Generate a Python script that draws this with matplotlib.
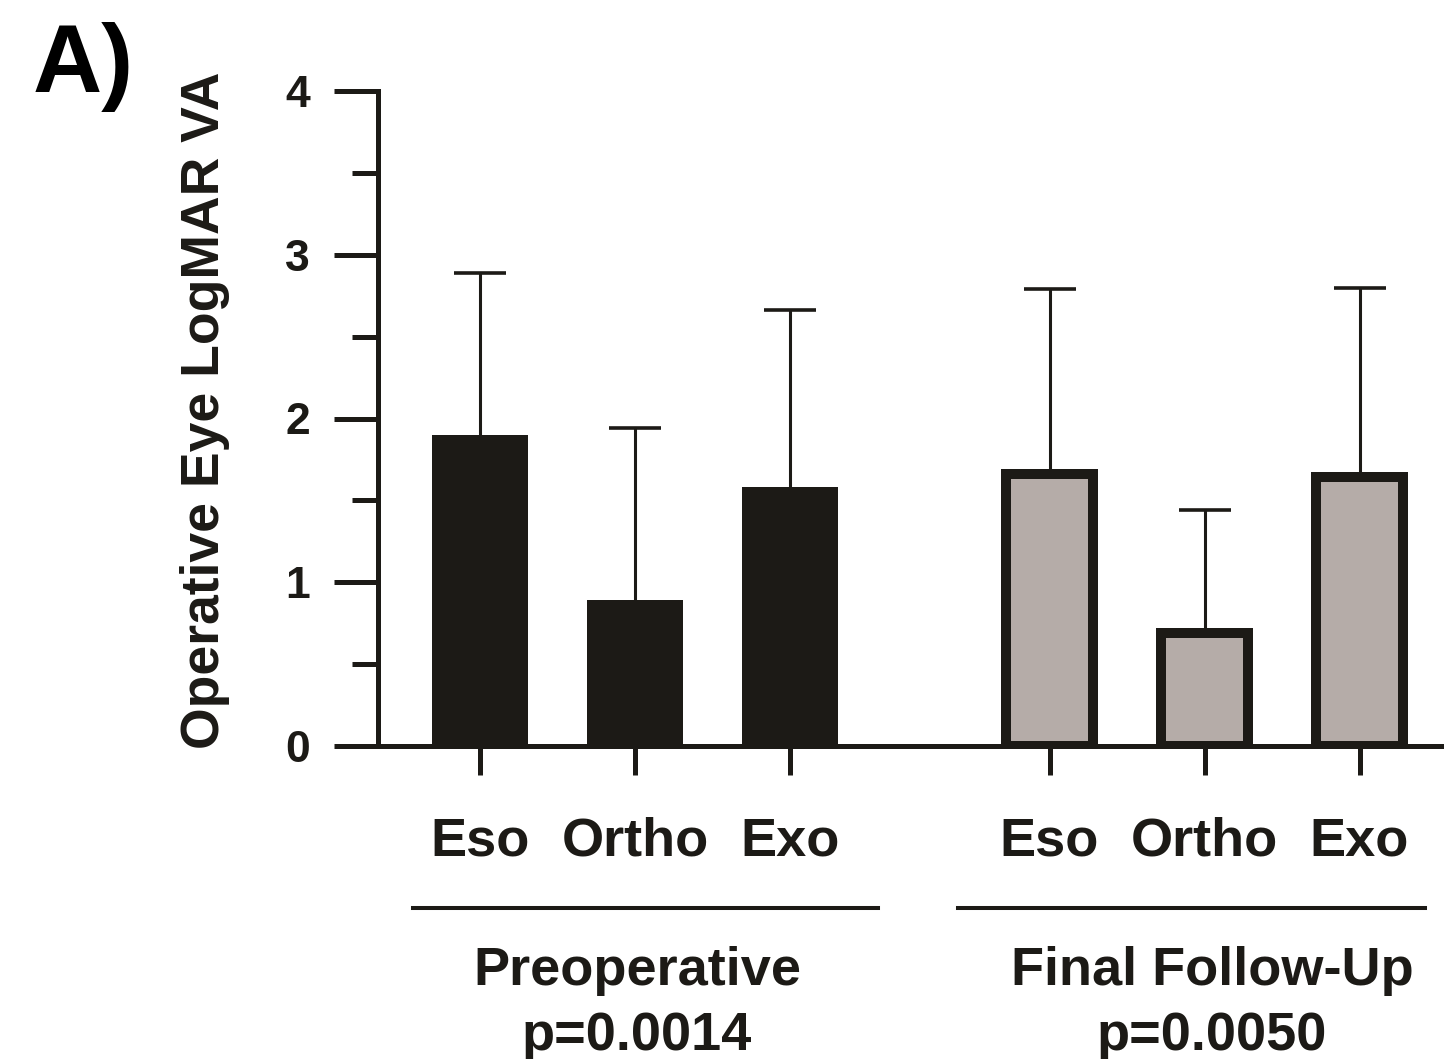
import matplotlib
matplotlib.use("Agg")
import matplotlib.pyplot as plt
from matplotlib.lines import Line2D
from matplotlib.ticker import MultipleLocator

plt.rcParams['font.family'] = ['Liberation Sans', 'DejaVu Sans']
plt.rcParams['font.weight'] = 'bold'

categories = ["Eso", "Ortho", "Exo"]
groups = ["Preoperative", "Final Follow-Up"]
pvalues = ["p=0.0014", "p=0.0050"]
preop_mean = [1.90, 0.89, 1.58]
preop_sd = [0.99, 1.05, 1.08]
final_mean = [1.66, 0.69, 1.64]
final_sd = [1.13, 0.75, 1.16]

W, H = 1444, 1059
fig = plt.figure(figsize=(W / 100, H / 100), dpi=100)
ax = fig.add_axes([378 / W, 1 - 746 / H, 1 - 378 / W, (746 - 91) / H])

dark = "#1c1a16"
grey = "#b5aca8"
gap = 3.674
pos_pre = [0, 1, 2]
pos_fin = [gap + i for i in range(3)]

ax.bar(pos_pre, preop_mean, width=0.62, color=dark, edgecolor=dark, linewidth=0, zorder=3)
ax.bar(pos_fin, final_mean, width=0.562, color=grey, edgecolor=dark, linewidth=7.2, zorder=3)

for pos, m, s in ((pos_pre, preop_mean, preop_sd), (pos_fin, final_mean, final_sd)):
    _, caps, _ = ax.errorbar(pos, m, yerr=[[0] * 3, s], fmt='none', ecolor=dark, elinewidth=2.2,
                             capsize=19, capthick=2.6, zorder=2)
    caps[0].set_visible(False)

ax.set_xlim(-0.658, 6.219)
ax.set_ylim(0, 4)
for sp in ("top", "right"):
    ax.spines[sp].set_visible(False)
for sp in ("left", "bottom"):
    ax.spines[sp].set_linewidth(3.6)
    ax.spines[sp].set_color(dark)

ax.set_yticks([0, 1, 2, 3, 4])
ax.yaxis.set_minor_locator(MultipleLocator(0.5))
ax.tick_params(axis='y', which='major', length=32, width=3.6, pad=17, labelsize=32, color=dark)
ax.tick_params(axis='y', which='minor', length=19, width=3.6, color=dark)
ax.set_xticks(pos_pre + pos_fin)
ax.set_xticklabels(categories * 2)
ax.tick_params(axis='x', which='major', length=21, width=3.6, pad=30, labelsize=39, color=dark)
for lab in ax.get_xticklabels() + ax.get_yticklabels():
    lab.set_fontweight('bold')
    lab.set_color(dark)

fig.text(205 / W, 1 - 410 / H, "Operative Eye LogMAR VA", rotation=90, ha='center', va='center',
         fontsize=38.5, fontweight='bold', color=dark)
fig.text(33 / W, 1 - 92 / H, "A)", ha='left', va='baseline', fontsize=69, fontweight='bold', color='black')

centers = [637, 1212]
line_x = [(413, 878), (958, 1425)]
for g, p, c, (x0, x1) in zip(groups, pvalues, centers, line_x):
    fig.add_artist(Line2D([x0 / W, x1 / W], [1 - 908 / H, 1 - 908 / H], color=dark, linewidth=2.9))
    fig.text(c / W, 1 - 985 / H, g, ha='center', va='baseline', fontsize=39, fontweight='bold', color=dark)
    fig.text(c / W, 1 - 1050 / H, p, ha='center', va='baseline', fontsize=39, fontweight='bold', color=dark)

fig.savefig("out.png", dpi=100)
